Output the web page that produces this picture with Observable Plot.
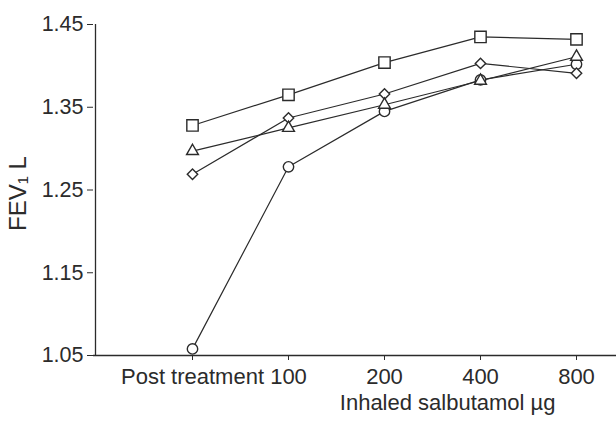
<!DOCTYPE html>
<html>
<head>
<meta charset="utf-8">
<script src="https://cdn.jsdelivr.net/npm/d3@7"></script>
<script src="https://cdn.jsdelivr.net/npm/@observablehq/plot@0.6"></script>
<style>
  html, body { margin: 0; padding: 0; background: #fff; }
  #chart { width: 616px; height: 423px; }
</style>
</head>
<body>
<div id="chart"></div>
<script>
// Categories (x axis)
const doses = ["Post treatment", "100", "200", "400", "800"];
// FEV1 (L) for each series
const circleValues   = [1.058, 1.278, 1.345, 1.383, 1.402];
const diamondValues  = [1.269, 1.337, 1.366, 1.403, 1.391];
const triangleValues = [1.297, 1.325, 1.353, 1.382, 1.411];
const squareValues   = [1.328, 1.365, 1.404, 1.435, 1.432];
// Tick labels
const yTicks = [1.05, 1.15, 1.25, 1.35, 1.45];
const yTitle = "FEV\u2081 L";
const xTitle = "Inhaled salbutamol \u00b5g";

const font = "'Liberation Sans',Arial,Helvetica,sans-serif";
const ink = "#2b2b2b";

const series = [
  {symbol: "circle", r: 5.2, values: circleValues},
  {symbol: "diamond2", r: 4.7, values: diamondValues},
  {symbol: "triangle", r: 4.4, values: triangleValues},
  {symbol: "square", r: 6.4, values: squareValues}
];

const lines = series.map(s => Plot.line(doses, {
  x: d => d, y: (d, i) => s.values[i], stroke: ink, strokeWidth: 1.2
}));
const dots = series.map(s => Plot.dot(doses, {
  x: d => d, y: (d, i) => s.values[i], symbol: () => s.symbol, r: s.r,
  stroke: ink, fill: "white", strokeWidth: 1.4
}));

const chart = Plot.plot({
  width: 616,
  height: 423,
  marginLeft: 93,
  marginRight: 0,
  marginTop: 24,
  marginBottom: 68,
  style: {fontFamily: font, fontSize: "22px", color: ink, background: "white"},
  x: {type: "point", domain: doses, padding: 0, insetLeft: 97, insetRight: 39},
  y: {domain: [1.05, 1.45]},
  symbol: {type: "identity"},
  marks: [
    Plot.ruleY([1.05], {stroke: ink, strokeWidth: 1.3}),
    Plot.ruleX([doses[0]], {dx: -97, stroke: ink, strokeWidth: 1.3}),
    Plot.axisY({ticks: yTicks, tickFormat: d3.format(".2f"), tickSize: 6, tickPadding: 4,
      fontSize: 21.5, label: null, stroke: ink}),
    Plot.axisX({tickSize: 5, tickPadding: 8, fontSize: 22, label: null, stroke: ink}),
    Plot.text([yTitle], {frameAnchor: "left", text: d => d, rotate: -90, dx: -75, dy: 3.5,
      textAnchor: "middle", fontSize: 24, fill: ink}),
    Plot.text([xTitle], {frameAnchor: "bottom-right", text: d => d, textAnchor: "end",
      dx: -61, dy: 54, fontSize: 22, fill: ink}),
    ...lines,
    ...dots
  ]
});
document.getElementById("chart").append(chart);
</script>
</body>
</html>
